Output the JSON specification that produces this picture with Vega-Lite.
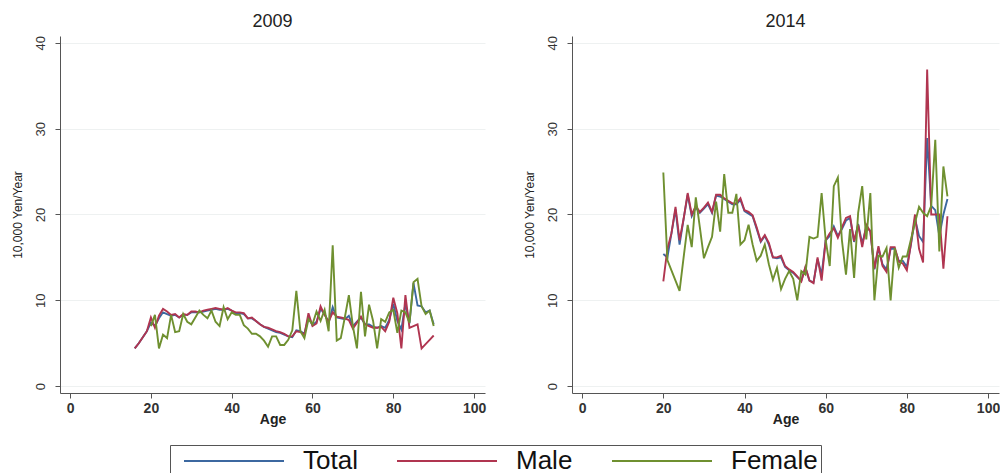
{
  "$schema": "https://vega.github.io/schema/vega-lite/v6.json",
  "background": "white",
  "padding": {"left": 11, "top": 12, "right": 0, "bottom": 0},
  "data": {"values": [
    {"year":2009,"age":16,"Total":4.4,"Male":4.4,"Female":null},
    {"year":2009,"age":17,"Total":5.0,"Male":5.0,"Female":null},
    {"year":2009,"age":18,"Total":5.7,"Male":5.7,"Female":null},
    {"year":2009,"age":19,"Total":6.4,"Male":6.4,"Female":null},
    {"year":2009,"age":20,"Total":7.4,"Male":8.0,"Female":7.0},
    {"year":2009,"age":21,"Total":7.0,"Male":6.8,"Female":8.3},
    {"year":2009,"age":22,"Total":7.9,"Male":8.2,"Female":4.4},
    {"year":2009,"age":23,"Total":8.6,"Male":9.0,"Female":6.0},
    {"year":2009,"age":24,"Total":8.4,"Male":8.7,"Female":5.6},
    {"year":2009,"age":25,"Total":8.2,"Male":8.3,"Female":8.3},
    {"year":2009,"age":26,"Total":8.3,"Male":8.4,"Female":6.3},
    {"year":2009,"age":27,"Total":8.0,"Male":8.0,"Female":6.4},
    {"year":2009,"age":28,"Total":8.3,"Male":8.4,"Female":8.4},
    {"year":2009,"age":29,"Total":8.3,"Male":8.3,"Female":7.5},
    {"year":2009,"age":30,"Total":8.6,"Male":8.7,"Female":7.2},
    {"year":2009,"age":31,"Total":8.6,"Male":8.7,"Female":8.0},
    {"year":2009,"age":32,"Total":8.6,"Male":8.6,"Female":8.8},
    {"year":2009,"age":33,"Total":8.7,"Male":8.8,"Female":8.3},
    {"year":2009,"age":34,"Total":8.8,"Male":8.9,"Female":7.9},
    {"year":2009,"age":35,"Total":8.9,"Male":9.0,"Female":8.8},
    {"year":2009,"age":36,"Total":9.0,"Male":9.1,"Female":7.5},
    {"year":2009,"age":37,"Total":8.9,"Male":9.0,"Female":7.0},
    {"year":2009,"age":38,"Total":8.9,"Male":8.9,"Female":9.2},
    {"year":2009,"age":39,"Total":9.0,"Male":9.1,"Female":7.8},
    {"year":2009,"age":40,"Total":8.8,"Male":8.8,"Female":8.6},
    {"year":2009,"age":41,"Total":8.5,"Male":8.6,"Female":8.3},
    {"year":2009,"age":42,"Total":8.5,"Male":8.6,"Female":8.3},
    {"year":2009,"age":43,"Total":8.4,"Male":8.5,"Female":7.1},
    {"year":2009,"age":44,"Total":7.9,"Male":7.9,"Female":6.7},
    {"year":2009,"age":45,"Total":7.9,"Male":8.0,"Female":6.1},
    {"year":2009,"age":46,"Total":7.6,"Male":7.6,"Female":6.1},
    {"year":2009,"age":47,"Total":7.2,"Male":7.2,"Female":5.8},
    {"year":2009,"age":48,"Total":6.9,"Male":6.9,"Female":5.3},
    {"year":2009,"age":49,"Total":6.7,"Male":6.8,"Female":4.6},
    {"year":2009,"age":50,"Total":6.5,"Male":6.6,"Female":5.8},
    {"year":2009,"age":51,"Total":6.3,"Male":6.4,"Female":5.8},
    {"year":2009,"age":52,"Total":6.2,"Male":6.3,"Female":4.8},
    {"year":2009,"age":53,"Total":6.0,"Male":6.1,"Female":4.8},
    {"year":2009,"age":54,"Total":5.8,"Male":5.8,"Female":5.4},
    {"year":2009,"age":55,"Total":5.7,"Male":5.8,"Female":6.5},
    {"year":2009,"age":56,"Total":6.5,"Male":6.4,"Female":11.1},
    {"year":2009,"age":57,"Total":6.4,"Male":6.3,"Female":6.4},
    {"year":2009,"age":58,"Total":6.1,"Male":6.0,"Female":5.6},
    {"year":2009,"age":59,"Total":8.0,"Male":8.5,"Female":7.8},
    {"year":2009,"age":60,"Total":7.1,"Male":7.0,"Female":7.2},
    {"year":2009,"age":61,"Total":7.5,"Male":7.3,"Female":8.7},
    {"year":2009,"age":62,"Total":9.0,"Male":9.3,"Female":7.6},
    {"year":2009,"age":63,"Total":8.4,"Male":8.3,"Female":8.9},
    {"year":2009,"age":64,"Total":7.4,"Male":7.5,"Female":6.4},
    {"year":2009,"age":65,"Total":9.2,"Male":8.6,"Female":16.4},
    {"year":2009,"age":66,"Total":8.0,"Male":8.1,"Female":5.3},
    {"year":2009,"age":67,"Total":7.9,"Male":8.0,"Female":5.6},
    {"year":2009,"age":68,"Total":7.8,"Male":7.9,"Female":8.0},
    {"year":2009,"age":69,"Total":8.2,"Male":7.7,"Female":10.6},
    {"year":2009,"age":70,"Total":7.0,"Male":6.7,"Female":7.0},
    {"year":2009,"age":71,"Total":7.5,"Male":7.4,"Female":4.4},
    {"year":2009,"age":72,"Total":8.0,"Male":8.1,"Female":11.0},
    {"year":2009,"age":73,"Total":7.2,"Male":7.2,"Female":5.8},
    {"year":2009,"age":74,"Total":7.2,"Male":7.0,"Female":9.5},
    {"year":2009,"age":75,"Total":6.9,"Male":6.8,"Female":7.6},
    {"year":2009,"age":76,"Total":6.8,"Male":6.8,"Female":4.4},
    {"year":2009,"age":77,"Total":7.0,"Male":6.9,"Female":7.8},
    {"year":2009,"age":78,"Total":6.8,"Male":6.4,"Female":7.5},
    {"year":2009,"age":79,"Total":7.7,"Male":7.5,"Female":8.6},
    {"year":2009,"age":80,"Total":9.6,"Male":10.3,"Female":8.9},
    {"year":2009,"age":81,"Total":7.6,"Male":8.5,"Female":6.2},
    {"year":2009,"age":82,"Total":6.6,"Male":4.4,"Female":8.8},
    {"year":2009,"age":83,"Total":9.6,"Male":10.6,"Female":8.6},
    {"year":2009,"age":84,"Total":7.3,"Male":6.8,"Female":7.4},
    {"year":2009,"age":85,"Total":12.0,"Male":7.0,"Female":12.1},
    {"year":2009,"age":86,"Total":9.4,"Male":7.2,"Female":12.5},
    {"year":2009,"age":87,"Total":9.3,"Male":4.4,"Female":9.3},
    {"year":2009,"age":88,"Total":8.6,"Male":4.9,"Female":8.4},
    {"year":2009,"age":89,"Total":8.8,"Male":5.4,"Female":8.8},
    {"year":2009,"age":90,"Total":7.2,"Male":5.9,"Female":7.0},
    {"year":2014,"age":20,"Total":15.4,"Male":12.2,"Female":24.9},
    {"year":2014,"age":21,"Total":15.0,"Male":16.0,"Female":14.7},
    {"year":2014,"age":22,"Total":17.8,"Male":17.8,"Female":13.5},
    {"year":2014,"age":23,"Total":20.6,"Male":20.9,"Female":12.3},
    {"year":2014,"age":24,"Total":16.5,"Male":17.0,"Female":11.1},
    {"year":2014,"age":25,"Total":19.5,"Male":19.5,"Female":15.0},
    {"year":2014,"age":26,"Total":22.3,"Male":22.5,"Female":18.8},
    {"year":2014,"age":27,"Total":19.8,"Male":20.0,"Female":16.2},
    {"year":2014,"age":28,"Total":20.8,"Male":21.0,"Female":22.0},
    {"year":2014,"age":29,"Total":20.2,"Male":20.3,"Female":18.5},
    {"year":2014,"age":30,"Total":20.7,"Male":20.8,"Female":14.9},
    {"year":2014,"age":31,"Total":21.2,"Male":21.4,"Female":16.2},
    {"year":2014,"age":32,"Total":20.2,"Male":20.3,"Female":17.4},
    {"year":2014,"age":33,"Total":22.2,"Male":22.3,"Female":21.5},
    {"year":2014,"age":34,"Total":22.1,"Male":22.3,"Female":18.0},
    {"year":2014,"age":35,"Total":21.8,"Male":21.9,"Female":24.7},
    {"year":2014,"age":36,"Total":21.5,"Male":21.6,"Female":20.2},
    {"year":2014,"age":37,"Total":21.2,"Male":21.3,"Female":20.2},
    {"year":2014,"age":38,"Total":21.2,"Male":21.3,"Female":22.4},
    {"year":2014,"age":39,"Total":21.7,"Male":21.9,"Female":16.5},
    {"year":2014,"age":40,"Total":20.4,"Male":20.5,"Female":17.0},
    {"year":2014,"age":41,"Total":20.1,"Male":20.3,"Female":18.8},
    {"year":2014,"age":42,"Total":19.8,"Male":19.9,"Female":16.5},
    {"year":2014,"age":43,"Total":18.3,"Male":18.5,"Female":14.6},
    {"year":2014,"age":44,"Total":16.8,"Male":16.9,"Female":15.2},
    {"year":2014,"age":45,"Total":17.5,"Male":17.6,"Female":16.5},
    {"year":2014,"age":46,"Total":16.5,"Male":16.7,"Female":14.2},
    {"year":2014,"age":47,"Total":15.0,"Male":15.0,"Female":12.4},
    {"year":2014,"age":48,"Total":14.9,"Male":15.0,"Female":13.8},
    {"year":2014,"age":49,"Total":15.0,"Male":15.2,"Female":11.3},
    {"year":2014,"age":50,"Total":13.9,"Male":14.0,"Female":12.5},
    {"year":2014,"age":51,"Total":13.5,"Male":13.6,"Female":13.4},
    {"year":2014,"age":52,"Total":13.2,"Male":13.3,"Female":12.5},
    {"year":2014,"age":53,"Total":12.7,"Male":12.8,"Female":10.0},
    {"year":2014,"age":54,"Total":12.3,"Male":12.2,"Female":13.4},
    {"year":2014,"age":55,"Total":13.8,"Male":13.9,"Female":13.0},
    {"year":2014,"age":56,"Total":12.3,"Male":12.3,"Female":17.4},
    {"year":2014,"age":57,"Total":12.1,"Male":12.0,"Female":17.2},
    {"year":2014,"age":58,"Total":14.8,"Male":15.0,"Female":17.4},
    {"year":2014,"age":59,"Total":13.0,"Male":12.3,"Female":22.5},
    {"year":2014,"age":60,"Total":17.0,"Male":17.0,"Female":17.0},
    {"year":2014,"age":61,"Total":17.5,"Male":17.8,"Female":14.0},
    {"year":2014,"age":62,"Total":18.6,"Male":18.4,"Female":23.3},
    {"year":2014,"age":63,"Total":17.5,"Male":17.3,"Female":24.3},
    {"year":2014,"age":64,"Total":18.3,"Male":18.5,"Female":17.0},
    {"year":2014,"age":65,"Total":19.3,"Male":19.6,"Female":13.0},
    {"year":2014,"age":66,"Total":19.6,"Male":19.8,"Female":18.3},
    {"year":2014,"age":67,"Total":16.8,"Male":16.9,"Female":12.6},
    {"year":2014,"age":68,"Total":18.9,"Male":18.8,"Female":20.2},
    {"year":2014,"age":69,"Total":16.6,"Male":16.2,"Female":23.3},
    {"year":2014,"age":70,"Total":18.5,"Male":18.8,"Female":17.1},
    {"year":2014,"age":71,"Total":18.1,"Male":18.0,"Female":22.5},
    {"year":2014,"age":72,"Total":13.6,"Male":13.7,"Female":10.0},
    {"year":2014,"age":73,"Total":16.1,"Male":16.3,"Female":15.2},
    {"year":2014,"age":74,"Total":14.2,"Male":14.0,"Female":15.1},
    {"year":2014,"age":75,"Total":13.6,"Male":13.3,"Female":16.1},
    {"year":2014,"age":76,"Total":16.0,"Male":16.2,"Female":10.0},
    {"year":2014,"age":77,"Total":16.0,"Male":16.2,"Female":16.1},
    {"year":2014,"age":78,"Total":14.6,"Male":14.5,"Female":13.8},
    {"year":2014,"age":79,"Total":14.6,"Male":14.3,"Female":15.1},
    {"year":2014,"age":80,"Total":13.9,"Male":13.5,"Female":15.1},
    {"year":2014,"age":81,"Total":16.5,"Male":16.6,"Female":17.1},
    {"year":2014,"age":82,"Total":19.5,"Male":20.0,"Female":19.0},
    {"year":2014,"age":83,"Total":17.5,"Male":16.0,"Female":20.9},
    {"year":2014,"age":84,"Total":16.8,"Male":14.4,"Female":20.2},
    {"year":2014,"age":85,"Total":28.9,"Male":36.9,"Female":19.8},
    {"year":2014,"age":86,"Total":21.0,"Male":20.0,"Female":21.0},
    {"year":2014,"age":87,"Total":20.5,"Male":20.0,"Female":28.7},
    {"year":2014,"age":88,"Total":17.5,"Male":20.0,"Female":15.7},
    {"year":2014,"age":89,"Total":20.0,"Male":13.7,"Female":25.6},
    {"year":2014,"age":90,"Total":21.8,"Male":19.8,"Female":22.1}
  ]},
  "transform": [
    {"fold": ["Total", "Male", "Female"], "as": ["sex", "value"]},
    {"filter": "isValid(datum.value)"}
  ],
  "spacing": 37,
  "hconcat": [
    {
      "width": 425, "height": 357,
      "title": {"text": "2009"},
      "transform": [{"filter": "datum.year == 2009"}],
      "mark": {"type": "line", "strokeWidth": 1.9},
      "encoding": {
        "x": {"field": "age", "type": "quantitative", "title": "Age",
              "scale": {"domain": [-2.5, 102.7], "nice": false, "zero": false},
              "axis": {"values": [0, 20, 40, 60, 80, 100]}},
        "y": {"field": "value", "type": "quantitative", "title": "10,000 Yen/Year",
              "scale": {"domain": [-0.8, 40.8], "nice": false, "zero": false},
              "axis": {"values": [0, 10, 20, 30, 40]}},
        "color": {"field": "sex", "type": "nominal",
                  "scale": {"domain": ["Total", "Male", "Female"], "range": ["#3c68a0", "#b03550", "#6f9030"]},
                  "legend": {"orient": "none", "legendX": 110, "legendY": 409, "direction": "horizontal", "title": null}}
      }
    },
    {
      "width": 427, "height": 357,
      "title": {"text": "2014"},
      "transform": [{"filter": "datum.year == 2014"}],
      "mark": {"type": "line", "strokeWidth": 1.9},
      "encoding": {
        "x": {"field": "age", "type": "quantitative", "title": "Age",
              "scale": {"domain": [-2.5, 102.7], "nice": false, "zero": false},
              "axis": {"values": [0, 20, 40, 60, 80, 100]}},
        "y": {"field": "value", "type": "quantitative", "title": "10,000 Yen/Year",
              "scale": {"domain": [-0.8, 40.8], "nice": false, "zero": false},
              "axis": {"values": [0, 10, 20, 30, 40]}},
        "color": {"field": "sex", "type": "nominal",
                  "scale": {"domain": ["Total", "Male", "Female"], "range": ["#3c68a0", "#b03550", "#6f9030"]}}
      }
    }
  ],
  "resolve": {"scale": {"color": "shared"}},
  "config": {
    "view": {"stroke": null},
    "font": "Liberation Sans",
    "title": {"fontSize": 18, "fontWeight": "normal", "color": "#222", "offset": 5, "anchor": "middle"},
    "axis": {
      "domainColor": "#555", "tickColor": "#555", "tickSize": 5,
      "gridColor": "#eef1f1", "labelColor": "#333", "titleColor": "#222"
    },
    "axisX": {"labelFontSize": 14, "labelFontWeight": "bold", "titleFontSize": 14, "titleFontWeight": "bold", "titlePadding": -3, "labelPadding": 3, "grid": false},
    "axisY": {"labelAngle": 270, "labelAlign": "center", "labelBaseline": "bottom", "labelFontSize": 13, "labelPadding": 8,
              "titleFontSize": 12, "titleFontWeight": "normal", "titlePadding": 10, "grid": true},
    "legend": {
      "symbolType": "M-5,0H5", "symbolSize": 400, "symbolStrokeWidth": 2, "symbolOffset": 48,
      "labelFontSize": 26, "labelColor": "#111", "labelOffset": 56, "columnPadding": 28,
      "strokeColor": "#555", "fillColor": "white", "padding": 3
    }
  }
}
